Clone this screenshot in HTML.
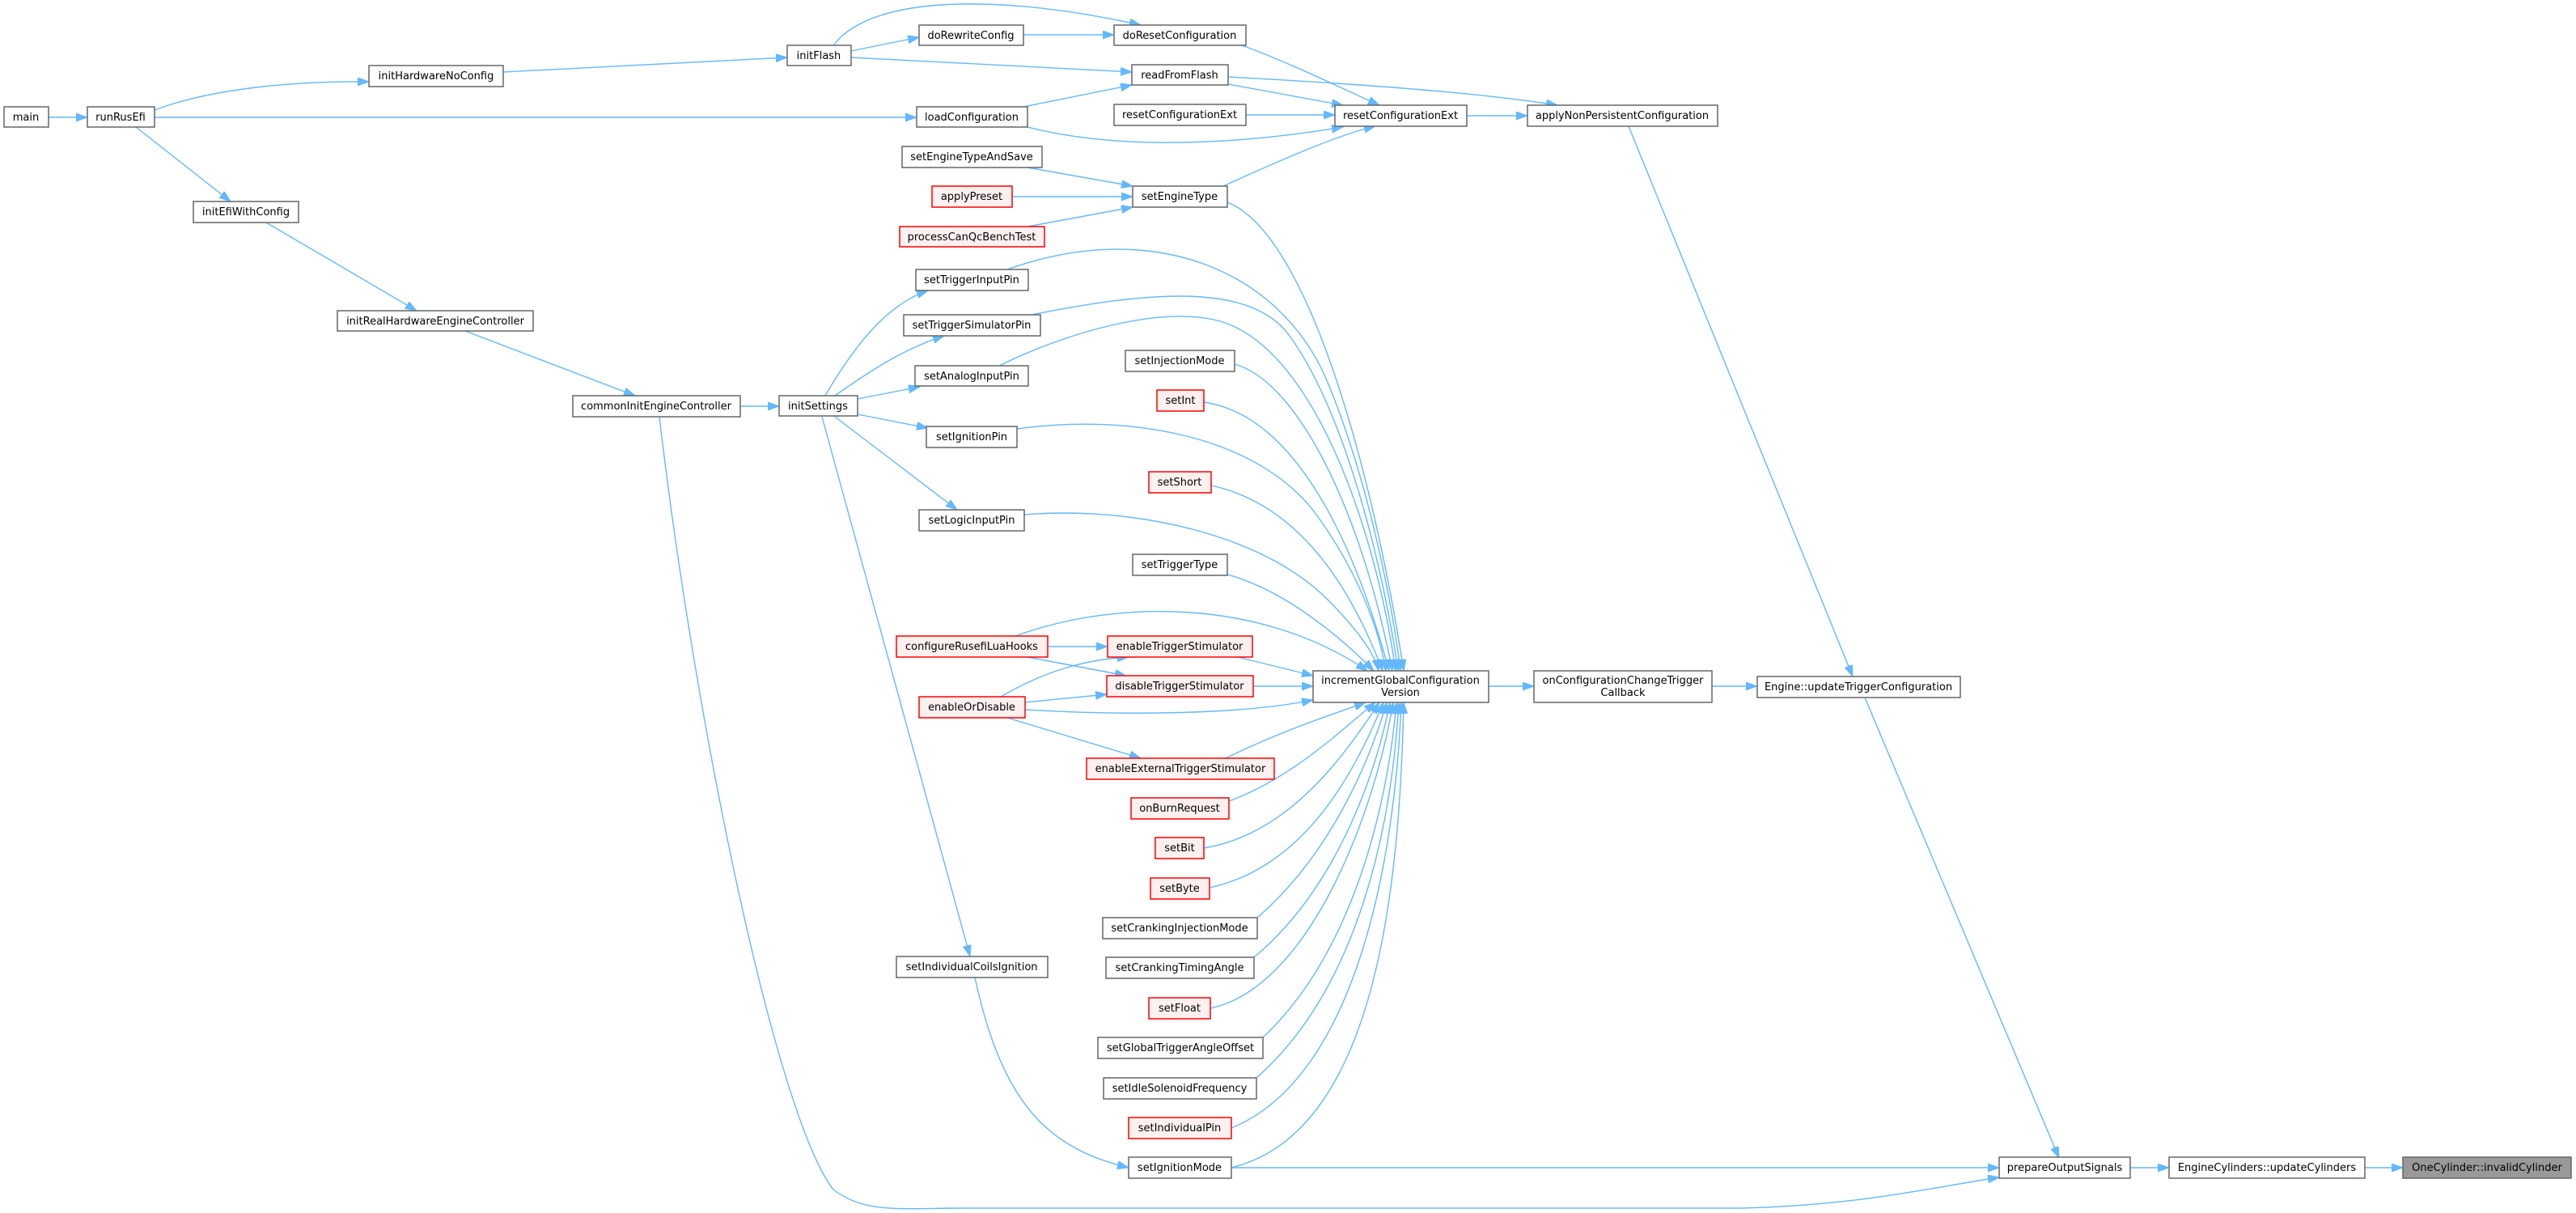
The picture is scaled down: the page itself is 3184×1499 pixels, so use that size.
<!DOCTYPE html>
<html><head><meta charset="utf-8"><style>
html,body{margin:0;padding:0;background:#fff;}
svg{display:block}
text{font-family:"DejaVu Sans","Liberation Sans",sans-serif;font-size:13px;fill:#000;text-anchor:middle}
.n{fill:#fff;stroke:#666;stroke-width:1.5}
.r{fill:#fff0f0;stroke:#f00;stroke-width:1.5}
.g{fill:#999;stroke:#666;stroke-width:1.5}
.e{fill:none;stroke:#63b8ff;stroke-width:1.4}
</style></head><body>
<svg width="3184" height="1499" viewBox="0 0 3184 1499" xmlns="http://www.w3.org/2000/svg">
<defs><marker id="a" markerUnits="userSpaceOnUse" markerWidth="15" markerHeight="11" refX="14" refY="5" orient="auto"><path d="M0,0 L14,5 L0,10 z" fill="#63b8ff" stroke="#63b8ff"/></marker></defs>
<g marker-end="url(#a)">
<path class="e" d="M60,145 L108,145"/>
<path class="e" d="M191,136 C260,110 360,100 456,101"/>
<path class="e" d="M191,145 L1133,145"/>
<path class="e" d="M168,157 L285,249"/>
<path class="e" d="M622,89 L973,71"/>
<path class="e" d="M1052,63 L1136,46"/>
<path class="e" d="M1030,56 C1080,-10 1250,-5 1410,31"/>
<path class="e" d="M1052,71 L1399,89"/>
<path class="e" d="M1265,43 L1377,43"/>
<path class="e" d="M1535,56 C1600,80 1660,110 1705,130"/>
<path class="e" d="M1518,104 L1660,130"/>
<path class="e" d="M1518,95 C1700,105 1830,115 1925,130"/>
<path class="e" d="M1265,132 L1399,105"/>
<path class="e" d="M1270,157 C1380,185 1520,180 1660,157"/>
<path class="e" d="M1540,142 L1650,142"/>
<path class="e" d="M1813,143 L1888,143"/>
<path class="e" d="M1270,207 L1400,230"/>
<path class="e" d="M1251,243 L1400,243"/>
<path class="e" d="M1270,280 L1400,256"/>
<path class="e" d="M1512,230 C1600,190 1660,165 1700,156"/>
<path class="e" d="M2013,156 L2290,836"/>
<path class="e" d="M1840,848 L1896,848"/>
<path class="e" d="M2116,848 L2172,848"/>
<path class="e" d="M2305,862 L2545,1431"/>
<path class="e" d="M2633,1443 L2681,1443"/>
<path class="e" d="M2923,1443 L2970,1443"/>
<path class="e" d="M1522,1443 L2471,1443"/>
<path class="e" d="M815,515 C860,900 960,1380 1030,1470 C1070,1500 1110,1493 1190,1493 L2150,1493 C2300,1490 2400,1465 2471,1455"/>
<path class="e" d="M575,409 L785,489"/>
<path class="e" d="M329,275 L515,384"/>
<path class="e" d="M915,502 L963,502"/>
<path class="e" d="M1020,489 C1060,420 1100,375 1147,359"/>
<path class="e" d="M1032,489 C1080,455 1120,430 1167,415"/>
<path class="e" d="M1060,493 L1137,478"/>
<path class="e" d="M1060,512 L1147,529"/>
<path class="e" d="M1032,515 L1183,630"/>
<path class="e" d="M1016,515 L1199,1182"/>
<path class="e" d="M1205,1208 C1240,1370 1300,1420 1395,1443"/>
<path class="e" d="M1295,799 L1369,799"/>
<path class="e" d="M1270,812 L1392,835"/>
<path class="e" d="M1255,786 C1380,740 1560,740 1690,829"/>
<path class="e" d="M1237,861 C1290,830 1340,815 1395,812"/>
<path class="e" d="M1267,868 L1368,858"/>
<path class="e" d="M1267,877 C1400,885 1540,882 1623,865"/>
<path class="e" d="M1245,887 L1410,937"/>
<path class="e" d="M1530,812 L1623,835"/>
<path class="e" d="M1549,848 L1623,848"/>
<path class="e" d="M1515,937 C1580,905 1640,885 1688,868"/>
<!-- top arrivals -->
<path class="e" d="M1517,250 C1620,290 1700,600 1735,829"/>
<path class="e" d="M1245,333 C1420,270 1580,330 1640,470 C1690,590 1720,740 1731,829"/>
<path class="e" d="M1275,389 C1420,360 1540,350 1590,410 C1660,500 1710,700 1728,829"/>
<path class="e" d="M1235,452 C1320,410 1430,380 1500,395 C1620,420 1700,650 1725,829"/>
<path class="e" d="M1526,450 C1600,470 1680,620 1721,829"/>
<path class="e" d="M1488,497 C1580,510 1660,620 1717,829"/>
<path class="e" d="M1257,530 C1400,510 1560,540 1630,640 C1680,710 1705,780 1713,829"/>
<path class="e" d="M1497,600 C1590,620 1660,700 1709,829"/>
<path class="e" d="M1266,636 C1400,625 1560,660 1640,740 C1680,780 1700,810 1704,829"/>
<path class="e" d="M1517,710 C1590,730 1660,790 1698,829"/>
<!-- bottom arrivals -->
<path class="e" d="M1519,990 C1600,960 1660,900 1700,868"/>
<path class="e" d="M1488,1048 C1600,1030 1670,920 1705,868"/>
<path class="e" d="M1495,1097 C1620,1070 1680,940 1710,868"/>
<path class="e" d="M1554,1134 C1640,1060 1690,950 1714,868"/>
<path class="e" d="M1550,1183 C1650,1100 1700,960 1718,868"/>
<path class="e" d="M1496,1246 C1620,1220 1700,1000 1722,868"/>
<path class="e" d="M1561,1282 C1670,1180 1715,1000 1726,868"/>
<path class="e" d="M1553,1332 C1680,1220 1720,1020 1729,868"/>
<path class="e" d="M1522,1394 C1680,1330 1725,1050 1732,868"/>
<path class="e" d="M1522,1443 C1700,1400 1730,1100 1735,868"/>
</g>
<!-- nodes -->
<g>
<rect class="n" x="5" y="132" width="55" height="25"/><text x="32" y="149">main</text>
<rect class="n" x="108" y="132" width="83" height="25"/><text x="149" y="149">runRusEfi</text>
<rect class="n" x="456" y="81" width="166" height="26"/><text x="539" y="98">initHardwareNoConfig</text>
<rect class="n" x="973" y="56" width="79" height="25"/><text x="1012" y="73">initFlash</text>
<rect class="n" x="239" y="249" width="130" height="26"/><text x="304" y="266">initEfiWithConfig</text>
<rect class="n" x="417" y="384" width="242" height="25"/><text x="538" y="401">initRealHardwareEngineController</text>
<rect class="n" x="708" y="489" width="207" height="26"/><text x="811" y="506">commonInitEngineController</text>
<rect class="n" x="963" y="489" width="97" height="25"/><text x="1011" y="506">initSettings</text>
<rect class="n" x="1136" y="31" width="129" height="25"/><text x="1200" y="48">doRewriteConfig</text>
<rect class="n" x="1377" y="31" width="163" height="25"/><text x="1458" y="48">doResetConfiguration</text>
<rect class="n" x="1399" y="80" width="119" height="25"/><text x="1458" y="97">readFromFlash</text>
<rect class="n" x="1133" y="132" width="137" height="25"/><text x="1201" y="149">loadConfiguration</text>
<rect class="n" x="1377" y="129" width="163" height="26"/><text x="1458" y="146">resetConfigurationExt</text>
<rect class="n" x="1650" y="130" width="163" height="26"/><text x="1731" y="147">resetConfigurationExt</text>
<rect class="n" x="1888" y="130" width="235" height="26"/><text x="2005" y="147">applyNonPersistentConfiguration</text>
<rect class="n" x="1115" y="181" width="173" height="26"/><text x="1201" y="198">setEngineTypeAndSave</text>
<rect class="r" x="1152" y="230" width="99" height="26"/><text x="1201" y="247">applyPreset</text>
<rect class="n" x="1400" y="230" width="117" height="26"/><text x="1458" y="247">setEngineType</text>
<rect class="r" x="1112" y="280" width="179" height="25"/><text x="1201" y="297">processCanQcBenchTest</text>
<rect class="n" x="1132" y="333" width="139" height="26"/><text x="1201" y="350">setTriggerInputPin</text>
<rect class="n" x="1117" y="389" width="169" height="26"/><text x="1201" y="406">setTriggerSimulatorPin</text>
<rect class="n" x="1391" y="433" width="135" height="26"/><text x="1458" y="450">setInjectionMode</text>
<rect class="n" x="1131" y="452" width="140" height="25"/><text x="1201" y="469">setAnalogInputPin</text>
<rect class="r" x="1430" y="482" width="58" height="26"/><text x="1459" y="499">setInt</text>
<rect class="n" x="1145" y="527" width="112" height="26"/><text x="1201" y="544">setIgnitionPin</text>
<rect class="r" x="1420" y="583" width="77" height="26"/><text x="1458" y="600">setShort</text>
<rect class="n" x="1136" y="630" width="130" height="26"/><text x="1201" y="647">setLogicInputPin</text>
<rect class="n" x="1400" y="685" width="117" height="26"/><text x="1458" y="702">setTriggerType</text>
<rect class="r" x="1108" y="786" width="187" height="26"/><text x="1201" y="803">configureRusefiLuaHooks</text>
<rect class="r" x="1369" y="786" width="179" height="26"/><text x="1458" y="803">enableTriggerStimulator</text>
<rect class="r" x="1368" y="835" width="181" height="26"/><text x="1458" y="852">disableTriggerStimulator</text>
<rect class="n" x="1623" y="829" width="217" height="39"/><text x="1731" y="845">incrementGlobalConfiguration</text><text x="1731" y="860">Version</text>
<rect class="n" x="1896" y="829" width="220" height="39"/><text x="2006" y="845">onConfigurationChangeTrigger</text><text x="2006" y="860">Callback</text>
<rect class="r" x="1136" y="861" width="131" height="26"/><text x="1201" y="878">enableOrDisable</text>
<rect class="r" x="1343" y="937" width="232" height="26"/><text x="1459" y="954">enableExternalTriggerStimulator</text>
<rect class="r" x="1398" y="986" width="121" height="26"/><text x="1458" y="1003">onBurnRequest</text>
<rect class="r" x="1428" y="1035" width="60" height="26"/><text x="1458" y="1052">setBit</text>
<rect class="r" x="1422" y="1085" width="73" height="26"/><text x="1458" y="1102">setByte</text>
<rect class="n" x="1363" y="1134" width="191" height="26"/><text x="1458" y="1151">setCrankingInjectionMode</text>
<rect class="n" x="1108" y="1182" width="187" height="26"/><text x="1201" y="1199">setIndividualCoilsIgnition</text>
<rect class="n" x="1367" y="1183" width="183" height="26"/><text x="1458" y="1200">setCrankingTimingAngle</text>
<rect class="r" x="1420" y="1233" width="76" height="26"/><text x="1458" y="1250">setFloat</text>
<rect class="n" x="1357" y="1282" width="204" height="26"/><text x="1459" y="1299">setGlobalTriggerAngleOffset</text>
<rect class="n" x="1364" y="1332" width="189" height="26"/><text x="1458" y="1349">setIdleSolenoidFrequency</text>
<rect class="r" x="1395" y="1381" width="127" height="26"/><text x="1458" y="1398">setIndividualPin</text>
<rect class="n" x="1395" y="1430" width="127" height="26"/><text x="1458" y="1447">setIgnitionMode</text>
<rect class="n" x="2172" y="836" width="251" height="26"/><text x="2297" y="853">Engine::updateTriggerConfiguration</text>
<rect class="n" x="2471" y="1430" width="162" height="26"/><text x="2552" y="1447">prepareOutputSignals</text>
<rect class="n" x="2681" y="1430" width="242" height="26"/><text x="2802" y="1447">EngineCylinders::updateCylinders</text>
<rect class="g" x="2970" y="1430" width="208" height="26"/><text x="3074" y="1447">OneCylinder::invalidCylinder</text>
</g>
</svg>
</body></html>
